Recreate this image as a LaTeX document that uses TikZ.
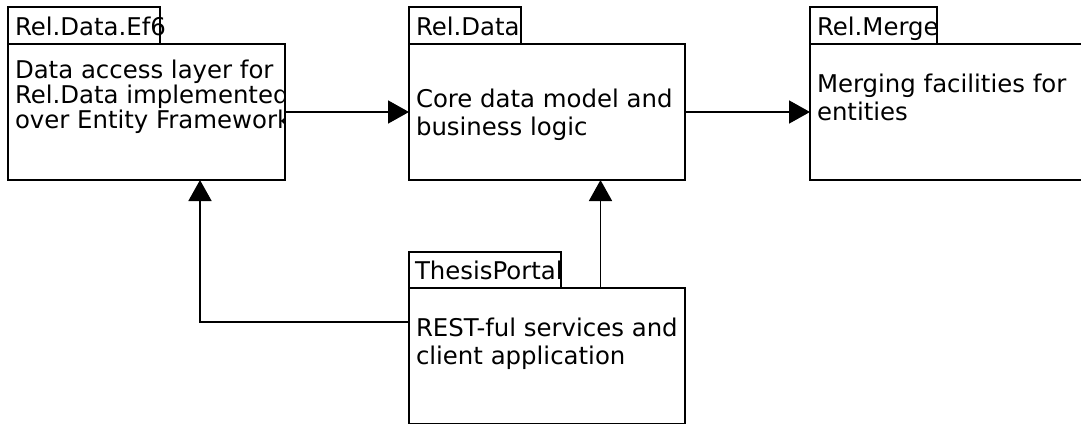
\documentclass[tikz,border=0pt]{standalone}
\usepackage{fontspec}
\setmainfont{DejaVu Sans}
\usetikzlibrary{arrows.meta}
\begin{document}
\begin{tikzpicture}[x=0.5pt,y=-0.5pt,
  box/.style={draw=black,line width=0.85pt,fill=white,inner sep=0pt,outer sep=0pt,anchor=north west},
  body/.style={box,minimum width=138pt,minimum height=68pt},
  tabbox/.style={box,minimum height=18.5pt},
  lbl/.style={inner sep=0pt,outer sep=0pt,anchor=base west,align=left,font=\fontsize{12.2}{14}\selectfont},
  arr/.style={line width=0.85pt,-{Triangle[length=10.5pt,width=11.5pt]}}]
\useasboundingbox (0,0) rectangle (1081,423);
% packages
\node[tabbox,minimum width=76pt] (ef6tab) at (8,7) {};
\node[body,minimum width=138.5pt] (ef6) at (8,44) {};
\node[tabbox,minimum width=56pt] (datatab) at (409,7) {};
\node[body] (data) at (409,44) {};
\node[tabbox,minimum width=63.5pt] (mergetab) at (810,7) {};
\node[body] (merge) at (810,44) {};
\node[tabbox,minimum width=76pt,minimum height=18pt] (portaltab) at (409,252) {};
\node[body] (portal) at (409,288) {};
% labels (anchor = baseline of the last line)
\node[lbl] (ef6name) at (15,35) {Rel.Data.Ef6};
\node[lbl] (dataname) at (416,35) {Rel.Data};
\begin{scope}
  \clip (810,7) rectangle (936,44);
  \node[lbl] (mergename) at (817,35) {Rel.Merge};
\end{scope}
\node[lbl] (portalname) at (415,279) {ThesisPortal};
\begin{scope}
  \clip (8,44) rectangle (284,180);
  \node[lbl,font=\fontsize{12.2}{12.5}\selectfont] (ef6text) at (15,128.5) {Data access layer for\\Rel.Data implemented\\over Entity Framework};
\end{scope}
\node[lbl] (datatext) at (416,135.3) {Core data model and\\business logic};
\node[lbl] (mergetext) at (817,120.3) {Merging facilities for\\entities};
\node[lbl] (portaltext) at (416,364.7) {REST-ful services and\\client application};
% connectors
\draw[arr] (ef6.east) -- (data.west);
\draw[arr] (data.east) -- (merge.west);
\draw[arr] ([yshift=-17pt]portal.north west) -| ([xshift=26.75pt]ef6.south);
\draw[arr] ([xshift=26.75pt]portal.north) -- ([xshift=26.75pt]data.south);
\end{tikzpicture}
\end{document}
